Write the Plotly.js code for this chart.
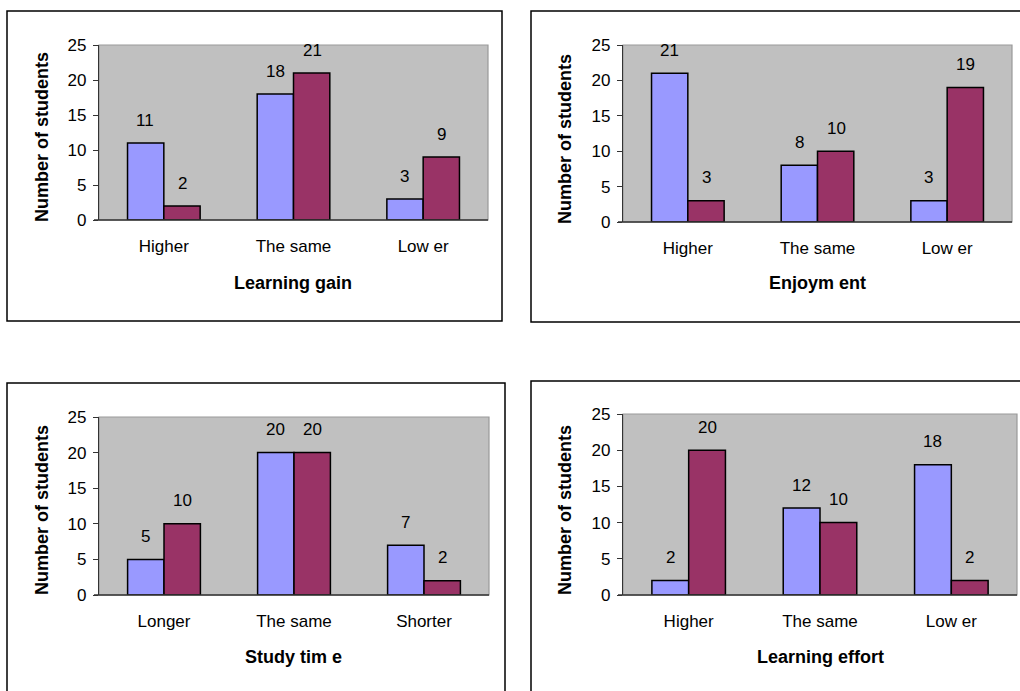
<!DOCTYPE html>
<html><head><meta charset="utf-8">
<script src="https://cdn.plot.ly/plotly-3.0.1.min.js"></script>
<style>html,body{margin:0;padding:0;background:#fff}#chart{width:1020px;height:691px}</style>
</head><body><div id="chart"></div>
<script>
// Data
const cats1 = ["Higher", "The same", "Low er"];
const gainA = [11, 18, 3];
const gainB = [2, 21, 9];
const cats2 = ["Higher", "The same", "Low er"];
const enjoyA = [21, 8, 3];
const enjoyB = [3, 10, 19];
const cats3 = ["Longer", "The same", "Shorter"];
const timeA = [5, 20, 7];
const timeB = [10, 20, 2];
const cats4 = ["Higher", "The same", "Low er"];
const effortA = [2, 12, 18];
const effortB = [20, 10, 2];
const xTitles = ["Learning gain", "Enjoym ent", "Study tim e", "Learning effort"];
const yTitle = "Number of students";
const yTicks = [0, 5, 10, 15, 20, 25];

const W = 1020, H = 691;
const px = v => v / W, py = v => 1 - v / H;
const FONT = "Liberation Sans, Arial, sans-serif";
const colA = "#9999FF", colB = "#993366";
const FS = 17, FT = 18;

const panels = [
  {cats: cats1, a: gainA, b: gainB, x: [99, 488], y: [45, 220], box: [7, 11, 502, 321], ytx: 42, yty: 137, xtx: 293, xty: 283},
  {cats: cats2, a: enjoyA, b: enjoyB, x: [623, 1012], y: [45, 222], box: [531, 11, 1030, 322], ytx: 565, yty: 139, xtx: 817, xty: 283},
  {cats: cats3, a: timeA, b: timeB, x: [99, 489], y: [417, 595], box: [7, 383, 505, 700], ytx: 42, yty: 510, xtx: 293, xty: 657},
  {cats: cats4, a: effortA, b: effortB, x: [623, 1017], y: [414, 595], box: [531, 381, 1030, 700], ytx: 565, yty: 510, xtx: 820, xty: 657}
];

const data = [], annotations = [], shapes = [];
const layout = {
  width: W, height: H, margin: {l: 0, r: 0, t: 0, b: 0},
  paper_bgcolor: "#fff", plot_bgcolor: "rgba(0,0,0,0)", showlegend: false, barmode: "group",
  bargap: 0.44, bargroupgap: 0,
  font: {family: FONT, size: FS, color: "#000"}
};

panels.forEach((p, i) => {
  const n = i === 0 ? "" : String(i + 1);
  const xa = "x" + n, ya = "y" + n;
  data.push({type: "bar", x: p.cats, y: p.a, xaxis: xa, yaxis: ya, marker: {color: colA, line: {color: "#000", width: 1.5}}, hoverinfo: "none"});
  data.push({type: "bar", x: p.cats, y: p.b, xaxis: xa, yaxis: ya, marker: {color: colB, line: {color: "#000", width: 1.5}}, hoverinfo: "none"});
  layout["xaxis" + n] = {
    domain: [px(p.x[0]), px(p.x[1])], anchor: ya, type: "category",
    showgrid: false, zeroline: false, showline: false, ticks: "",
    ticklabelstandoff: 14, tickfont: {family: FONT, size: FS, color: "#000"}, fixedrange: true
  };
  layout["yaxis" + n] = {
    domain: [py(p.y[1]), py(p.y[0])], anchor: xa, range: [0, 25],
    tickvals: yTicks, ticktext: yTicks.map(String),
    showgrid: false, zeroline: false, showline: true, linecolor: "#333", linewidth: 1.2,
    ticks: "outside", ticklen: 5, tickcolor: "#333", ticklabelstandoff: 3,
    tickfont: {family: FONT, size: FS, color: "#000"}, fixedrange: true
  };
  // gray plot area
  shapes.push({type: "rect", xref: "paper", yref: "paper", x0: px(p.x[0]), x1: px(p.x[1]), y0: py(p.y[1]), y1: py(p.y[0]),
    fillcolor: "#C0C0C0", line: {color: "#999", width: 1.2}, layer: "below"});
  // baseline
  shapes.push({type: "line", xref: "paper", yref: "paper", x0: px(p.x[0] - 5), x1: px(p.x[1]), y0: py(p.y[1]), y1: py(p.y[1]),
    line: {color: "#333", width: 1.5}, layer: "above"});
  // outer box
  shapes.push({type: "rect", xref: "paper", yref: "paper", x0: px(p.box[0]), x1: px(p.box[2]), y0: py(p.box[3]), y1: py(p.box[1]),
    line: {color: "#000", width: 1.5}, fillcolor: "rgba(0,0,0,0)", layer: "below"});
  // data labels
  [p.a, p.b].forEach((vals, s) => {
    vals.forEach((v, j) => {
      annotations.push({xref: xa, yref: ya, x: p.cats[j], y: v, text: String(v), showarrow: false,
        xshift: s === 0 ? -18.5 : 18.5, yshift: 23, yanchor: "middle", xanchor: "center",
        font: {family: FONT, size: FS, color: "#000"}});
    });
  });
  annotations.push({xref: "paper", yref: "paper", x: px(p.xtx), y: py(p.xty), text: "<b>" + xTitles[i] + "</b>",
    showarrow: false, xanchor: "center", yanchor: "middle", font: {family: FONT, size: FT, color: "#000"}});
  annotations.push({xref: "paper", yref: "paper", x: px(p.ytx), y: py(p.yty), text: "<b>" + yTitle + "</b>", textangle: -90,
    showarrow: false, xanchor: "center", yanchor: "middle", font: {family: FONT, size: FT, color: "#000"}});
});
layout.annotations = annotations;
layout.shapes = shapes;
Plotly.newPlot("chart", data, layout, {staticPlot: true});
</script></body></html>
